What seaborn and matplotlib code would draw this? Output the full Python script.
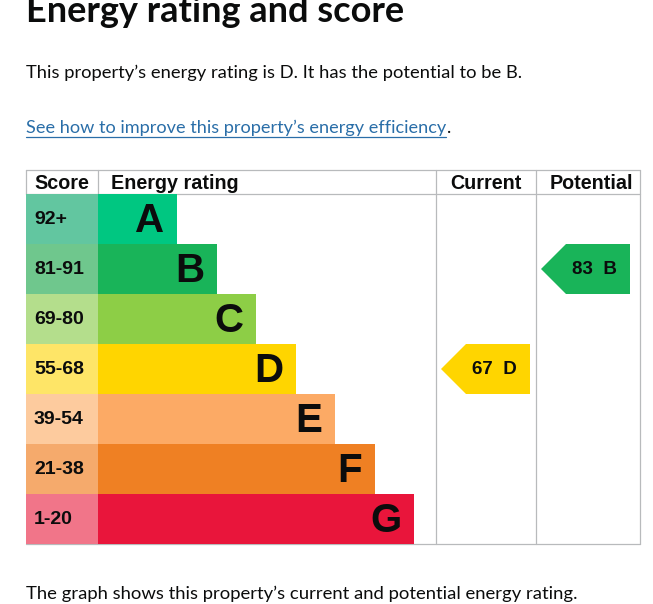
import matplotlib
matplotlib.use("Agg")
import matplotlib.pyplot as plt
from matplotlib.patches import Polygon
import seaborn as sns
import pandas as pd

# ---- data ----
bands = ["A", "B", "C", "D", "E", "F", "G"]
score_ranges = ["92+", "81-91", "69-80", "55-68", "39-54", "21-38", "1-20"]
band_length = [2, 3, 4, 5, 6, 7, 8]          # relative bar length per band
band_colors = ["#00c781", "#19b459", "#8dce46", "#ffd500", "#fcaa65", "#ef8023", "#e9153b"]
score_colors = ["#62c6a0", "#6fc78d", "#b4de8c", "#fee567", "#fdcb9e", "#f5aa6c", "#f17589"]
current_score, current_band = 67, "D"
potential_score, potential_band = 83, "B"

title = "Energy rating and score"
summary = "This property\u2019s energy rating is D. It has the potential to be B."
link_text = "See how to improve this property\u2019s energy efficiency"
footer = "The graph shows this property\u2019s current and potential energy rating."
headers = ["Score", "Energy rating", "Current", "Potential"]

df = pd.DataFrame({"band": bands, "length": band_length, "range": score_ranges,
                   "one": [1] * len(bands)})

sns.set_theme(style="white")
plt.rcParams["font.family"] = ["Liberation Sans", "DejaVu Sans"]

W, H = 653, 604
fig = plt.figure(figsize=(W / 100, H / 100), dpi=100)

def fx(px):
    return px / W

def fy(py):
    return 1 - py / H

# background axes in pixel units for table lines and prose
bg = fig.add_axes([0, 0, 1, 1])
bg.set_xlim(0, W)
bg.set_ylim(H, 0)
bg.axis("off")

grey = "#b8babc"
lw = 0.9
bg.plot([26, 640], [170, 170], color=grey, lw=lw)
bg.plot([26, 640], [194, 194], color=grey, lw=lw)
bg.plot([26, 640], [544, 544], color=grey, lw=lw)
bg.plot([26, 26], [170, 194], color=grey, lw=lw)
bg.plot([98, 98], [170, 194], color=grey, lw=lw)
for xv in (436, 536, 640):
    bg.plot([xv, xv], [170, 544], color=grey, lw=lw)

prose_font = ["Lato", "DejaVu Sans"]
link_col = "#2a6ea8"
bg.text(26, 22, title, fontsize=26, fontweight="bold", family=prose_font,
        ha="left", va="baseline", color="#0b0c0c")
bg.text(26, 78, summary, fontsize=13.2, family=prose_font, ha="left", va="baseline",
        color="#0b0c0c")
lt = bg.text(26, 133, link_text, fontsize=13.1, family=prose_font, ha="left",
             va="baseline", color=link_col)
fig.canvas.draw()
bb = lt.get_window_extent(renderer=fig.canvas.get_renderer())
link_end = bb.x1 * W / fig.canvas.get_width_height()[0]
bg.text(link_end + 1, 133, ".", fontsize=13.1, family=prose_font, ha="left",
        va="baseline", color="#0b0c0c")
bg.plot([26, link_end], [136.5, 136.5], color=link_col, lw=0.9)
bg.text(26, 599, footer, fontsize=13.3, family=prose_font, ha="left", va="baseline",
        color="#0b0c0c")

hdr_kw = dict(fontsize=14.2, fontweight="bold", va="baseline", color="#0b0c0c")
bg.text(34, 189, headers[0], ha="left", **hdr_kw)
bg.text(111, 189, headers[1], ha="left", **hdr_kw)
bg.text(486, 189, headers[2], ha="center", **hdr_kw)
bg.text(591, 189, headers[3], ha="center", **hdr_kw)

top_px, bot_px = 194, 544
body_b, body_h = fy(bot_px), (bot_px - top_px) / H

# score column
ax_s = fig.add_axes([fx(26), body_b, fx(72), body_h])
sns.barplot(data=df, x="one", y="band", hue="band", palette=score_colors,
            saturation=1, orient="h", width=1.0, linewidth=0, legend=False, ax=ax_s)
ax_s.set_xlim(0, 1)
ax_s.set_ylim(len(bands) - 0.5, -0.5)
ax_s.axis("off")
for i, r in enumerate(score_ranges):
    ax_s.text(0.11, i, r, fontsize=14, fontweight="bold", ha="left", va="center",
              color="#0b0c0c")

# rating bars
unit = 39.5
ax_r = fig.add_axes([fx(98), body_b, fx(338), body_h])
sns.barplot(data=df, x="length", y="band", hue="band", palette=band_colors,
            saturation=1, orient="h", width=1.0, linewidth=0, legend=False, ax=ax_r)
ax_r.set_xlim(0, 338 / unit)
ax_r.set_ylim(len(bands) - 0.5, -0.5)
ax_r.axis("off")
for i, (b, L) in enumerate(zip(bands, band_length)):
    ax_r.text(L - 12.5 / unit, i + 0.03, b, fontsize=29, fontweight="bold",
              ha="right", va="center", color="#0b0c0c")

# current / potential arrows
def arrow_axes(left_px, width_px, score, band):
    ax = fig.add_axes([fx(left_px), body_b, fx(width_px), body_h])
    ax.set_xlim(0, width_px)
    ax.set_ylim(len(bands) - 0.5, -0.5)
    ax.axis("off")
    i = bands.index(band)
    col = band_colors[i]
    pts = [(5, i), (30, i - 0.5), (94, i - 0.5), (94, i + 0.5), (30, i + 0.5)]
    ax.add_patch(Polygon(pts, closed=True, facecolor=col, edgecolor="none"))
    ax.text(58, i + 0.02, f"{score}  {band}", fontsize=13.5, fontweight="bold",
            ha="center", va="center", color="#0b0c0c")
    return ax

arrow_axes(436, 100, current_score, current_band)
arrow_axes(536, 104, potential_score, potential_band)

fig.savefig("out.png", dpi=100)
